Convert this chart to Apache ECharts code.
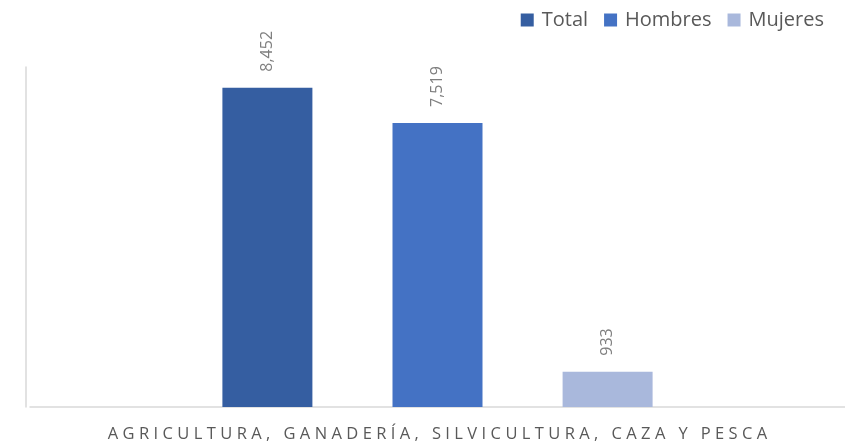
<!DOCTYPE html>
<html>
<head>
<meta charset="utf-8">
<script src="https://cdn.jsdelivr.net/npm/echarts@6/dist/echarts.min.js"></script>
<style>
  html, body { margin: 0; padding: 0; background: #fff; }
  #chart { width: 845px; height: 446px; }
</style>
</head>
<body>
<div id="chart"></div>
<script>
// datos
const categories = ['AGRICULTURA, GANADERÍA, SILVICULTURA, CAZA Y PESCA'];
const seriesNames = ['Total', 'Hombres', 'Mujeres'];
const totalValues = [8452];
const hombresValues = [7519];
const mujeresValues = [933];
const colors = ['#355ea1', '#4472c4', '#a9b8dc'];

const myChart = echarts.init(document.getElementById('chart'));

// separa las letras para imitar el espaciado del original
const spaced = (s) => s.split('').join('\u2009\u200A');

const labelStyle = {
  show: true,
  position: 'top',
  rotate: 90,
  distance: 16,
  align: 'left',
  verticalAlign: 'middle',
  color: '#7f7f7f',
  fontSize: 16,
  fontFamily: 'Open Sans',
  formatter: (p) => p.value.toLocaleString('en-US')
};

const dataArr = [totalValues, hombresValues, mujeresValues];

myChart.setOption({
  animation: false,
  grid: { left: 30, right: 0, top: 67, bottom: 39, containLabel: false },
  legend: {
    data: seriesNames,
    right: 16,
    top: 5,
    itemWidth: 13,
    itemHeight: 13,
    itemGap: 16,
    icon: 'rect',
    textStyle: { color: '#595959', fontSize: 20, fontFamily: 'Open Sans', padding: [0, 0, 0, 3] }
  },
  xAxis: {
    type: 'category',
    data: categories,
    axisLine: { lineStyle: { color: '#d9d9d9', width: 1.5 } },
    axisTick: { show: false },
    axisLabel: {
      color: '#595959',
      fontSize: 16.5,
      fontFamily: 'Open Sans',
      margin: 19,
      formatter: (v) => spaced(v)
    }
  },
  yAxis: {
    type: 'value',
    min: 0,
    max: 9000,
    offset: 4,
    axisLine: { show: true, lineStyle: { color: '#d9d9d9', width: 1.5 } },
    axisTick: { show: false },
    axisLabel: { show: false },
    splitLine: { show: false }
  },
  series: seriesNames.map((name, i) => ({
    name: name,
    type: 'bar',
    barWidth: 90,
    barGap: '89%',
    itemStyle: { color: colors[i] },
    label: labelStyle,
    data: dataArr[i]
  }))
});
</script>
</body>
</html>
